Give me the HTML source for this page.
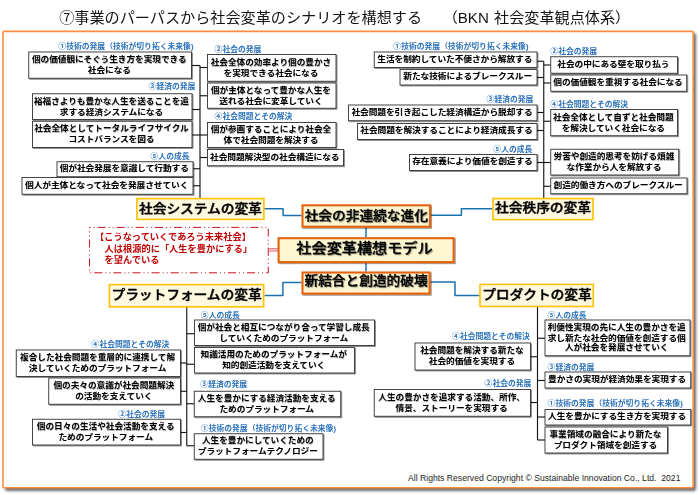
<!DOCTYPE html>
<html lang="ja"><head><meta charset="utf-8"><title>社会変革構想モデル</title>
<style>
html,body{margin:0;padding:0;background:#fff;}
body{width:700px;height:495px;position:relative;overflow:hidden;font-family:"Liberation Sans","Noto Sans CJK JP",sans-serif;color:#000;}
.abs{position:absolute;}
#title{position:absolute;left:59.2px;top:6.7px;font-size:15.14px;word-spacing:1px;line-height:22px;white-space:pre;font-weight:400;color:#141414;}
#frame{position:absolute;left:3px;top:31.4px;width:690.2px;height:456.3px;border-radius:2px;box-shadow:2.2px 2.2px 3px rgba(70,70,70,.8);background:#fff;}
.b{position:absolute;box-sizing:border-box;font-weight:700;font-size:8.65px;line-height:10.55px;text-align:center;padding-right:1.6px;white-space:nowrap;display:flex;align-items:center;justify-content:center;text-shadow:.4px .4px .5px rgba(0,0,0,.3);}
.l{position:absolute;font-weight:700;font-size:7.8px;line-height:10px;height:10px;color:#2a72b9;margin-left:-.4px;white-space:nowrap;}
.m{position:absolute;-webkit-text-stroke:.35px #000;font-weight:500;font-size:13.7px;line-height:20px;text-align:center;white-space:nowrap;text-shadow:.6px .6px .8px rgba(0,0,0,.38);}
.c{position:absolute;-webkit-text-stroke:.35px #000;font-weight:500;font-size:13.7px;line-height:20px;text-align:center;white-space:nowrap;text-shadow:1px 1px 1.2px rgba(0,0,0,.5);}
#red{position:absolute;left:95px;top:230.8px;font-weight:700;font-size:9.23px;line-height:12px;color:#c00000;white-space:nowrap;}
#foot{position:absolute;left:408px;top:472.8px;font-size:8.65px;line-height:11px;color:#262626;white-space:pre;}
.in{padding-left:9.6px;}
.b span{display:block;transform:scaleY(.95);}
.m,.c{transform:scaleY(.93);}
.l,#red,#title{transform:scaleY(.95);}
svg{position:absolute;left:0;top:0;}
</style></head><body>
<div id="title">⑦事業のパーパスから社会変革のシナリオを構想する<span style="display:inline-block;width:20.6px"></span>（BKN 社会変革観点体系）</div>
<div id="frame"></div>
<svg width="700" height="495" viewBox="0 0 700 495">
<rect x="3" y="31.35" width="690.2" height="456.35" rx="1.3" ry="1.3" fill="none" stroke="#fa8d40" stroke-width="1.6"/>
<g stroke="#161616" stroke-width="1.15" fill="none">
<path d="M200 65.5L200 198"/>
<path d="M191.5 65.5L200 65.5"/>
<path d="M192 109.5L200 109.5"/>
<path d="M192 135L200 135"/>
<path d="M193 168.75L200 168.75"/>
<path d="M193 185.75L200 185.75"/>
<path d="M200 67.5L207.5 67.5"/>
<path d="M200 95.75L207.5 95.75"/>
<path d="M200 135L207.5 135"/>
<path d="M200 157.5L207.5 157.5"/>
<path d="M543.75 61.25L543.75 198"/>
<path d="M537 61.25L543.75 61.25"/>
<path d="M537 77.5L543.75 77.5"/>
<path d="M537 112.5L543.75 112.5"/>
<path d="M537 130.5L543.75 130.5"/>
<path d="M537 162.5L543.75 162.5"/>
<path d="M543.75 65L550.75 65"/>
<path d="M543.75 83L550.75 83"/>
<path d="M543.75 121.25L550.75 121.25"/>
<path d="M543.75 162.5L550.75 162.5"/>
<path d="M543.75 186.25L550.75 186.25"/>
<path d="M186.75 306.75L186.75 445.75"/>
<path d="M186.75 333.75L194.5 333.75"/>
<path d="M186.75 364.25L194.5 364.25"/>
<path d="M186.75 403.75L194.25 403.75"/>
<path d="M186.75 445.75L194.25 445.75"/>
<path d="M180.5 363L186.75 363"/>
<path d="M180.5 391.25L186.75 391.25"/>
<path d="M180.5 432.5L186.75 432.5"/>
<path d="M537.5 306.75L537.5 440"/>
<path d="M537.5 338.25L545 338.25"/>
<path d="M537.5 380.5L545 380.5"/>
<path d="M537.5 417L545 417"/>
<path d="M537.5 440L545 440"/>
<path d="M530.5 356.75L537.5 356.75"/>
<path d="M530.5 402.5L537.5 402.5"/>
</g>
<defs><filter id="sh" x="-5%" y="-20%" width="110%" height="150%"><feDropShadow dx="0.9" dy="0.9" stdDeviation="0.45" flood-color="#000" flood-opacity="0.5"/></filter></defs>
<g stroke="#333" stroke-width="0.9" fill="#fff" filter="url(#sh)">
<rect x="28.75" y="52" width="162.75" height="26.25"/>
<rect x="32.5" y="93.75" width="159.5" height="25.75"/>
<rect x="32.5" y="121.25" width="159.5" height="26.25"/>
<rect x="57" y="161.75" width="136" height="15"/>
<rect x="22" y="177.5" width="171" height="16.75"/>
<rect x="207.5" y="54.5" width="128.5" height="26.75"/>
<rect x="207.5" y="83" width="128.5" height="25.25"/>
<rect x="207.5" y="122.5" width="128.5" height="25"/>
<rect x="207.5" y="149.5" width="136" height="16.25"/>
<rect x="374.25" y="52" width="162.75" height="15.5"/>
<rect x="400" y="69.5" width="137" height="15.5"/>
<rect x="348.5" y="105" width="188.5" height="15.75"/>
<rect x="357.5" y="123.5" width="179.5" height="16"/>
<rect x="409.5" y="154.5" width="127.5" height="16"/>
<rect x="550.75" y="56.75" width="126.75" height="16.5"/>
<rect x="550.75" y="75" width="136" height="16.25"/>
<rect x="550.75" y="109.5" width="126.75" height="26.25"/>
<rect x="550.75" y="149.25" width="128" height="25.75"/>
<rect x="550.75" y="178" width="136.25" height="15.75"/>
<rect x="194.5" y="320" width="180" height="25.5"/>
<rect x="194.5" y="347.5" width="160" height="25.5"/>
<rect x="194.25" y="391.25" width="146.5" height="25.5"/>
<rect x="194.25" y="433.75" width="128.75" height="25.5"/>
<rect x="16.25" y="350" width="164.25" height="26.5"/>
<rect x="48.75" y="378" width="131.75" height="26.25"/>
<rect x="32.5" y="419.25" width="148" height="25.75"/>
<rect x="545" y="320" width="145" height="35.75"/>
<rect x="545" y="372" width="145.75" height="16"/>
<rect x="545" y="409.5" width="145.75" height="15.5"/>
<rect x="545" y="427" width="122.5" height="26"/>
<rect x="415" y="343" width="115.5" height="27"/>
<rect x="374.25" y="389.5" width="156.25" height="26.75"/>
</g>
<g stroke="#1b70ae" stroke-width="1.5" fill="none" stroke-linejoin="round">
<path d="M263.9 208.8H283.1V215.6H301.4"/>
<path d="M431 215.3H461.4V208.8H492.2"/>
<path d="M264.6 295.5H282.9V282.4H301.4"/>
<path d="M430.7 282.1H455V295.6H479.6"/>
<path d="M366 227.7V237.1"/>
<path d="M366 263.1V271.4"/>
</g>
<defs><pattern id="dots" width="2" height="2" patternUnits="userSpaceOnUse"><rect width="2" height="2" fill="#fffdf0"/><rect width="1" height="1" fill="#fff6cf"/><rect x="1" y="1" width="1" height="1" fill="#fff6cf"/></pattern><filter id="sh2" x="-5%" y="-20%" width="110%" height="150%"><feDropShadow dx="1" dy="1" stdDeviation="0.7" flood-color="#000" flood-opacity="0.45"/></filter></defs>
<g stroke="#ffc000" stroke-width="1.6" fill="url(#dots)">
<rect x="136.9" y="198.6" width="127" height="20.8"/>
<rect x="493" y="198.5" width="100" height="21.1"/>
<rect x="109.4" y="284.6" width="154.3" height="22.2"/>
<rect x="480" y="284.4" width="113.3" height="22.1"/>
</g>
<g stroke="#e5630d" stroke-width="2.1" fill="#fff7d1" filter="url(#sh2)">
<rect x="302.5" y="205.3" width="127.5" height="21.4"/>
<rect x="278.6" y="238.2" width="175" height="23.9"/>
<rect x="302.5" y="272.5" width="127.1" height="21.1"/>
</g>
<rect x="89.55" y="227.4" width="178.7" height="45.4" fill="#fff" stroke="#c9151b" stroke-width="1" stroke-dasharray="8.1 3 1 3 1 3" stroke-dashoffset="11.1"/>
<rect x="268.3" y="248.7" width="9.5" height="2.4" fill="#f6c4c8" stroke="#dc4f5c" stroke-width="0.7"/>
</svg>
<div class="b" style="left:28.75px;top:52px;width:162.75px;height:26.25px;padding-bottom:1px"><span>個の価値観にそぐう生き方を実現できる<br>社会になる</span></div>
<div class="b" style="left:32.5px;top:93.75px;width:159.5px;height:25.75px;padding-bottom:1px"><span>裕福さよりも豊かな人生を送ることを追<br>求する経済システムになる</span></div>
<div class="b" style="left:32.5px;top:121.25px;width:159.5px;height:26.25px;padding-bottom:1px"><span>社会全体としてトータルライフサイクル<br>コストバランスを図る</span></div>
<div class="b" style="left:57px;top:161.75px;width:136px;height:15px;padding-bottom:1.6px"><span>個が社会発展を意識して行動する</span></div>
<div class="b" style="left:22px;top:177.5px;width:171px;height:16.75px;padding-bottom:1.6px"><span>個人が主体となって社会を発展させていく</span></div>
<div class="b" style="left:207.5px;top:54.5px;width:128.5px;height:26.75px;padding-bottom:1px"><span>社会全体の効率より個の豊かさ<br>を実現できる社会になる</span></div>
<div class="b" style="left:207.5px;top:83px;width:128.5px;height:25.25px;padding-bottom:1px"><span>個が主体となって豊かな人生を<br>送れる社会に変革していく</span></div>
<div class="b" style="left:207.5px;top:122.5px;width:128.5px;height:25px;padding-bottom:1px"><span>個が参画することにより社会全<br>体で社会問題を解決する</span></div>
<div class="b" style="left:207.5px;top:149.5px;width:136px;height:16.25px;padding-bottom:1.6px"><span>社会問題解決型の社会構造になる</span></div>
<div class="b" style="left:374.25px;top:52px;width:162.75px;height:15.5px;padding-bottom:1.6px"><span>生活を制約していた不便さから解放する</span></div>
<div class="b" style="left:400px;top:69.5px;width:137px;height:15.5px;padding-bottom:1.6px"><span>新たな技術によるブレークスルー</span></div>
<div class="b" style="left:348.5px;top:105px;width:188.5px;height:15.75px;padding-bottom:1.6px"><span>社会問題を引き起こした経済構造から脱却する</span></div>
<div class="b" style="left:357.5px;top:123.5px;width:179.5px;height:16px;padding-bottom:1.6px"><span>社会問題を解決することにより経済成長する</span></div>
<div class="b" style="left:409.5px;top:154.5px;width:127.5px;height:16px;padding-bottom:1.6px"><span>存在意義により価値を創造する</span></div>
<div class="b" style="left:550.75px;top:56.75px;width:126.75px;height:16.5px;padding-bottom:1.6px"><span>社会の中にある壁を取り払う</span></div>
<div class="b" style="left:550.75px;top:75px;width:136px;height:16.25px;padding-bottom:1.6px"><span>個の価値観を重視する社会になる</span></div>
<div class="b" style="left:550.75px;top:109.5px;width:126.75px;height:26.25px;padding-bottom:1px"><span>社会全体として自ずと社会問題<br>を解決していく社会になる</span></div>
<div class="b" style="left:550.75px;top:149.25px;width:128px;height:25.75px;padding-bottom:1px"><span>労苦や創造的思考を妨げる煩雑<br>な作業から人を解放する</span></div>
<div class="b" style="left:550.75px;top:178px;width:136.25px;height:15.75px;padding-bottom:1.6px"><span>創造的働き方へのブレークスルー</span></div>
<div class="b" style="left:194.5px;top:320px;width:180px;height:25.5px;padding-bottom:1px"><span>個が社会と相互につながり合って学習し成長<br>していくためのプラットフォーム</span></div>
<div class="b" style="left:194.5px;top:347.5px;width:160px;height:25.5px;padding-bottom:1px"><span>知識活用のためのプラットフォームが<br>知的創造活動を支えていく</span></div>
<div class="b" style="left:194.25px;top:391.25px;width:146.5px;height:25.5px;padding-bottom:1px"><span>人生を豊かにする経済活動を支える<br>ためのプラットフォーム</span></div>
<div class="b" style="left:194.25px;top:433.75px;width:128.75px;height:25.5px;padding-bottom:1px"><span>人生を豊かにしていくための<br>プラットフォームテクノロジー</span></div>
<div class="b" style="left:16.25px;top:350px;width:164.25px;height:26.5px;padding-bottom:1px"><span>複合した社会問題を重層的に連携して解<br>決していくためのプラットフォーム</span></div>
<div class="b" style="left:48.75px;top:378px;width:131.75px;height:26.25px;padding-bottom:1px"><span>個の夫々の意識が社会問題解決<br>の活動を支えていく</span></div>
<div class="b" style="left:32.5px;top:419.25px;width:148px;height:25.75px;padding-bottom:1px"><span>個の日々の生活や社会活動を支える<br>ためのプラットフォーム</span></div>
<div class="b" style="left:545px;top:320px;width:145px;height:35.75px;padding-bottom:1px"><span>利便性実現の先に人生の豊かさを追<br>求し新たな社会的価値を創造する個<br>人が社会を発展させていく</span></div>
<div class="b" style="left:545px;top:372px;width:145.75px;height:16px;padding-bottom:1.6px"><span>豊かさの実現が経済効果を実現する</span></div>
<div class="b" style="left:545px;top:409.5px;width:145.75px;height:15.5px;padding-bottom:1.6px"><span>人生を豊かにする生き方を実現する</span></div>
<div class="b" style="left:545px;top:427px;width:122.5px;height:26px;padding-bottom:1px"><span>事業領域の融合により新たな<br>プロダクト領域を創造する</span></div>
<div class="b" style="left:415px;top:343px;width:115.5px;height:27px;padding-bottom:1px"><span>社会問題を解決する新たな<br>社会的価値を実現する</span></div>
<div class="b" style="left:374.25px;top:389.5px;width:156.25px;height:26.75px;padding-bottom:1px"><span>人生の豊かさを追求する活動、所作、<br>情景、ストーリーを実現する</span></div>
<div class="l" style="left:58.75px;top:42.45px">①技術の発展（技術が切り拓く未来像)</div>
<div class="l" style="left:149px;top:81.9px">③経済の発展</div>
<div class="l" style="left:151px;top:151.7px">⑤人の成長</div>
<div class="l" style="left:215px;top:45.45px">②社会の発展</div>
<div class="l" style="left:215px;top:112.45px">④社会問題とその解決</div>
<div class="l" style="left:393.75px;top:41.7px">①技術の発展（技術が切り拓く未来像)</div>
<div class="l" style="left:487px;top:95.45px">③経済の発展</div>
<div class="l" style="left:493.75px;top:144.95px">⑤人の成長</div>
<div class="l" style="left:550.75px;top:46.95px">②社会の発展</div>
<div class="l" style="left:550.75px;top:99.95px">④社会問題とその解決</div>
<div class="l" style="left:201.25px;top:310.7px">⑤人の成長</div>
<div class="l" style="left:200.75px;top:380.45px">③経済の発展</div>
<div class="l" style="left:201.25px;top:423.7px">①技術の発展（技術が切り拓く未来像)</div>
<div class="l" style="left:92px;top:340.45px">④社会問題とその解決</div>
<div class="l" style="left:118.75px;top:409.95px">②社会の発展</div>
<div class="l" style="left:548px;top:310.7px">⑤人の成長</div>
<div class="l" style="left:548px;top:362.95px">③経済の発展</div>
<div class="l" style="left:548px;top:399.2px">①技術の発展（技術が切り拓く未来像)</div>
<div class="l" style="left:452.5px;top:332.45px">④社会問題とその解決</div>
<div class="l" style="left:485px;top:378.7px">②社会の発展</div>
<div class="m" style="left:136.9px;top:198.8px;width:127px;height:20px">社会システムの変革</div>
<div class="m" style="left:493px;top:198.1px;width:100px;height:20px">社会秩序の変革</div>
<div class="m" style="left:109.4px;top:285.2px;width:154.3px;height:20px">プラットフォームの変革</div>
<div class="m" style="left:480.5px;top:285.2px;width:112.8px;height:20px">プロダクトの変革</div>
<div class="c" style="left:302.5px;top:205.8px;width:127.5px;height:20px;font-size:13.7px">社会の非連続な進化</div>
<div class="c" style="left:277px;top:238.1px;width:175px;height:20px;font-size:15.15px">社会変革構想モデル</div>
<div class="c" style="left:302.5px;top:271px;width:127.1px;height:20px;font-size:13.7px">新結合と創造的破壊</div>
<div id="red">【こうなっていくであろう未来社会】<br><span class="in">人は根源的に「人生を豊かにする」</span><br><span class="in">を望んでいる</span></div>
<div id="foot">All Rights Reserved Copyright © Sustainable Innovation Co., Ltd.  2021</div>
</body></html>
